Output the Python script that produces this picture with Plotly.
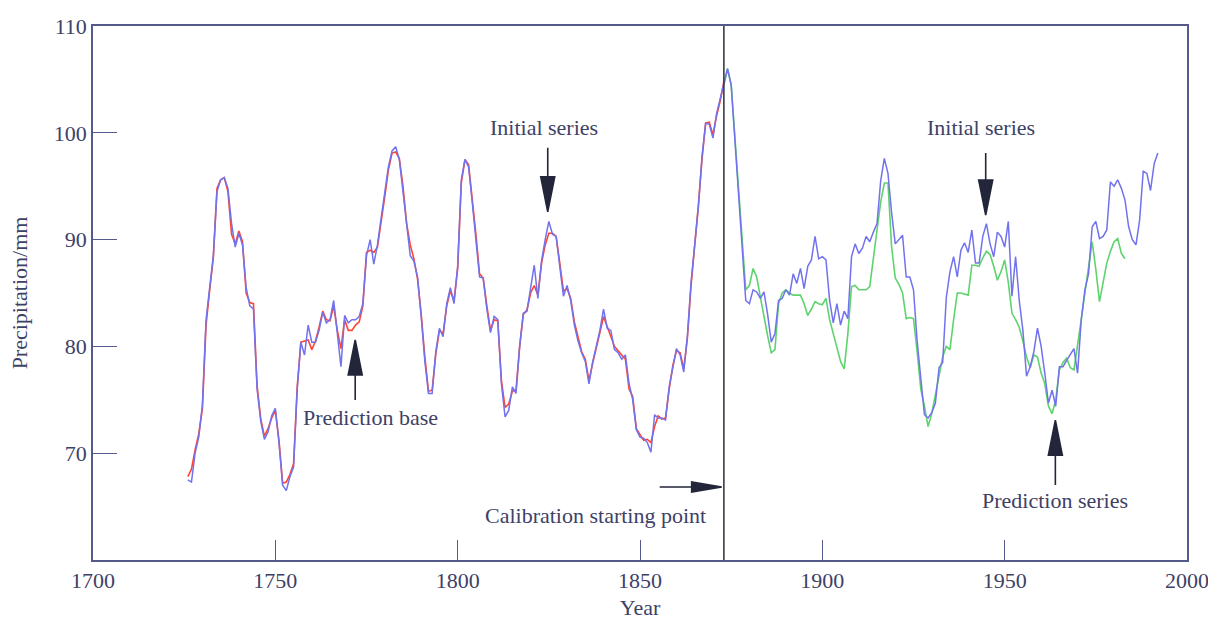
import plotly.graph_objects as go

# ---------------- data ----------------
start_year = 1726
initial_series = [
    67.5, 67.3, 70.0, 71.5, 74.5, 82.5, 85.5, 88.5, 94.5, 95.6,   # 1726-1735
    95.8, 94.8, 91.5, 89.3, 90.6, 89.5, 85.5, 83.8, 83.5, 76.0,   # 1736-1745
    73.0, 71.3, 72.0, 73.5, 74.2, 71.0, 67.0, 66.5, 67.8, 68.7,   # 1746-1755
    76.0, 80.4, 79.2, 82.0, 80.4, 80.4, 81.5, 83.2, 82.2, 82.5,   # 1756-1765
    84.3, 81.0, 78.1, 82.9, 82.2, 82.5, 82.5, 82.8, 84.0, 88.5,   # 1766-1775
    90.0, 87.7, 89.5, 92.0, 94.5, 96.8, 98.3, 98.7, 97.5, 94.5,   # 1776-1785
    91.0, 88.5, 88.0, 86.5, 82.8, 78.6, 75.6, 75.6, 79.5, 81.7,   # 1786-1795
    80.9, 84.0, 85.5, 84.0, 87.5, 95.6, 97.5, 96.8, 93.5, 90.0,   # 1796-1805
    86.5, 86.4, 83.5, 81.3, 82.8, 82.5, 76.5, 73.4, 74.0, 76.2,   # 1806-1815
    75.6, 80.0, 83.1, 83.3, 85.3, 87.6, 84.5, 88.0, 90.0, 91.7,   # 1816-1825
    90.5, 90.3, 87.5, 84.7, 85.7, 84.3, 82.0, 80.5, 79.4, 78.6,   # 1826-1835
    76.5, 78.5, 80.0, 81.5, 83.5, 81.7, 81.5, 79.7, 79.4, 78.8,   # 1836-1845
    79.2, 76.5, 75.0, 72.2, 71.5, 71.4, 71.0, 70.1, 73.6, 73.3,   # 1846-1855
    73.3, 73.1, 76.2, 78.0, 79.8, 79.2, 77.6, 81.0, 86.0, 89.5,   # 1856-1865
    93.0, 97.8, 100.9, 100.8, 99.5, 101.8, 103.2, 104.5, 106.0, 104.5,  # 1866-1875
    99.6, 94.3, 89.0, 84.3, 84.0, 85.3, 85.1, 84.5, 85.1, 83.0,   # 1876-1885
    80.4, 81.2, 84.3, 84.5, 85.3, 84.8, 86.8, 85.9, 87.3, 85.4,   # 1886-1895
    87.5, 88.1, 90.3, 88.2, 88.4, 88.1, 84.3, 82.2, 84.0, 82.0,   # 1896-1905
    83.3, 82.6, 88.4, 89.6, 88.7, 89.2, 90.3, 89.8, 90.7, 91.5,   # 1906-1915
    95.5, 97.6, 96.2, 92.5, 89.6, 90.0, 90.4, 86.5, 86.5, 85.3,   # 1916-1925
    80.5, 77.0, 73.6, 73.3, 73.8, 74.7, 78.0, 78.5, 84.6, 87.0,   # 1926-1935
    88.4, 86.5, 89.0, 89.7, 88.8, 90.9, 87.8, 87.8, 90.3, 91.5,   # 1936-1945
    89.6, 88.4, 90.7, 90.3, 89.3, 91.7, 84.7, 88.4, 84.3, 81.5,   # 1946-1955
    77.2, 78.1, 79.5, 81.7, 80.0, 77.5, 74.7, 75.9, 74.4, 78.1,   # 1956-1965
    78.1, 78.7, 79.2, 79.8, 77.5, 82.5, 85.3, 86.8, 91.2, 91.7,   # 1966-1975
    90.1, 90.3, 90.9, 95.4, 95.0, 95.6, 94.8, 93.7, 91.2, 90.0,   # 1976-1985
    89.5, 91.8, 96.4, 96.2, 94.6, 97.1, 98.1,                     # 1986-1992
]
initial_years = list(range(start_year, start_year + len(initial_series)))

prediction_base = [
    67.8, 68.5, 70.3, 71.8, 74.2, 82.0, 85.3, 88.3, 94.8, 95.6,   # 1726-1735
    95.8, 94.5, 90.5, 89.6, 90.8, 89.8, 85.0, 84.1, 84.0, 76.3,   # 1736-1745
    73.2, 71.6, 72.3, 73.3, 74.0, 71.2, 67.2, 67.3, 68.0, 69.0,   # 1746-1755
    76.2, 80.4, 80.5, 80.6, 79.7, 80.5, 81.8, 83.3, 82.5, 82.4,   # 1756-1765
    83.8, 81.5, 79.8, 82.5, 81.5, 81.5, 82.0, 82.3, 83.8, 88.8,   # 1766-1775
    89.0, 88.8, 89.3, 91.5, 94.0, 96.5, 98.1, 98.2, 97.6, 95.0,   # 1776-1785
    91.5, 89.5, 88.2, 86.3, 83.0, 79.0, 75.8, 75.9, 79.3, 81.5,   # 1786-1795
    81.2, 83.8, 85.2, 84.3, 87.3, 95.3, 97.5, 97.0, 94.0, 90.5,   # 1796-1805
    86.8, 86.4, 83.8, 81.5, 82.5, 82.4, 76.8, 74.3, 74.6, 75.8,   # 1806-1815
    75.9, 80.0, 83.0, 83.4, 85.0, 85.7, 84.8, 87.8, 89.5, 90.6,   # 1816-1825
    90.6, 90.3, 87.8, 85.2, 85.4, 84.5, 82.3, 81.0, 79.5, 78.8,   # 1826-1835
    76.8, 78.4, 80.0, 81.3, 82.8, 81.9, 81.0, 80.0, 79.6, 79.2,   # 1836-1845
    78.8, 76.0, 75.3, 72.3, 71.8, 71.2, 71.3, 71.0, 72.5, 73.5,   # 1846-1855
    73.2, 73.3, 76.0, 78.2, 79.6, 79.4, 77.9, 80.8, 85.7, 89.2,   # 1856-1865
    93.2, 97.5, 100.9, 101.0, 99.8, 101.6, 103.0, 104.8,           # 1866-1873
]
base_years = list(range(start_year, start_year + len(prediction_base)))

pred_start = 1873
prediction_series = [
    104.5, 106.0, 104.5, 99.6, 94.3, 89.3, 85.3, 85.7, 87.3, 86.5,   # 1873-1882
    84.5, 82.8, 81.0, 79.4, 79.7, 84.0, 85.0, 85.3, 85.0, 84.8,      # 1883-1892
    84.8, 84.8, 84.0, 82.9, 83.5, 84.2, 84.0, 83.9, 84.5, 82.5,      # 1893-1902
    81.2, 79.8, 78.6, 77.9, 81.2, 85.6, 85.7, 85.3, 85.3, 85.3,      # 1903-1912
    85.6, 88.5, 90.9, 93.5, 95.3, 95.3, 89.3, 86.4, 85.8, 85.0,      # 1913-1922
    82.6, 82.7, 82.6, 79.5, 76.0, 74.4, 72.5, 73.7, 75.5, 77.5,      # 1923-1932
    79.0, 80.0, 79.7, 82.5, 85.0, 85.0, 84.9, 84.8, 87.6, 87.6,      # 1933-1942
    87.5, 88.3, 88.9, 88.6, 87.5, 86.2, 87.0, 88.1, 86.0, 83.1,      # 1943-1952
    82.5, 81.8, 80.5, 79.0, 78.0, 79.2, 79.0, 77.5, 76.5, 74.4,      # 1953-1962
    73.7, 75.0, 77.8, 78.5, 78.9, 78.0, 77.8, 80.0, 82.5, 85.0,      # 1963-1972
    87.2, 89.8, 87.2, 84.2, 86.0, 87.8, 88.9, 89.8, 90.1, 88.7,      # 1973-1982
    88.2,                                                            # 1983
]
pred_years = list(range(pred_start, pred_start + len(prediction_series)))

calibration_year = 1873
x_ticks = [1700, 1750, 1800, 1850, 1900, 1950, 2000]
y_ticks = [70, 80, 90, 100, 110]

# ---------------- style ----------------
FONT = "Liberation Serif, Times New Roman, serif"
TXT = "#3d4166"
AX = "#555a8a"
ARROW = "#23263a"
FS = 22

fig = go.Figure()
fig.add_trace(go.Scatter(x=base_years, y=prediction_base, mode="lines",
                         line=dict(color="#ff4433", width=1.6), name="Prediction base"))
fig.add_trace(go.Scatter(x=pred_years, y=prediction_series, mode="lines",
                         line=dict(color="#5fd36e", width=1.6), name="Prediction series"))
fig.add_trace(go.Scatter(x=initial_years, y=initial_series, mode="lines",
                         line=dict(color="#7272ee", width=1.5), name="Initial series"))

fig.add_shape(type="line", x0=calibration_year, x1=calibration_year, y0=60, y1=110,
              xref="x", yref="y", line=dict(color="#3a3a4a", width=1.6))

def arrow(x, y, direction, head=35, total=62, half=7):
    """Arrow whose tip sits at data point (x, y); geometry in pixels."""
    if direction == "down":      # tail above, tip at bottom
        p = f"M0,0 L{-half},{head} L{half},{head} Z M0,{head} L0,{total}"
    elif direction == "up":      # tail below
        p = f"M0,0 L{-half},{-head} L{half},{-head} Z M0,{-head} L0,{-total}"
    else:                        # right: tail on the left
        p = f"M0,0 L{-head},{half} L{-head},{-half} Z M{-head},0 L{-total},0"
    fig.add_shape(type="path", path=p, xref="x", yref="y",
                  xsizemode="pixel", ysizemode="pixel", xanchor=x, yanchor=y,
                  fillcolor=ARROW, line=dict(color=ARROW, width=1.6))

def label(text, x, y):
    fig.add_annotation(x=x, y=y, xref="x", yref="y", text=text, showarrow=False,
                       font=dict(family=FONT, size=FS, color=TXT))

arrow(1824.7, 92.6, "down", head=35, total=64, half=7)
label("Initial series", 1823.8, 100.5)
arrow(1771.9, 80.6, "up", head=35, total=60, half=7)
label("Prediction base", 1776.1, 73.3)
arrow(1872.4, 66.84, "right", head=30, total=62, half=5)
label("Calibration starting point", 1837.8, 64.2)
arrow(1944.8, 92.3, "down", head=35, total=62, half=7)
label("Initial series", 1943.4, 100.5)
arrow(1963.9, 73.1, "up", head=35, total=65, half=7)
label("Prediction series", 1963.7, 65.6)

fig.update_layout(
    width=1208, height=620,
    margin=dict(l=93, r=21, t=26, b=60),
    paper_bgcolor="white", plot_bgcolor="white",
    showlegend=False,
    font=dict(family=FONT, size=FS, color=TXT),
)
fig.update_xaxes(range=[1700, 2000], tickvals=x_ticks, ticks="inside", ticklen=20,
                 tickcolor=AX, tickwidth=1.2, showline=True, linecolor=AX, linewidth=1.5,
                 mirror=True, showgrid=False, zeroline=False, automargin=False,
                 ticklabeloverflow="allow",
                 title=dict(text="Year", standoff=8, font=dict(size=FS, color=TXT)),
                 tickfont=dict(size=FS, color=TXT))
fig.update_yaxes(range=[60, 110], tickvals=y_ticks, ticks="inside", ticklen=24,
                 tickcolor=AX, tickwidth=1.2, showline=True, linecolor=AX, linewidth=1.5,
                 mirror=True, showgrid=False, zeroline=False, automargin=False,
                 ticklabeloverflow="allow",
                 title=dict(text="Precipitation/mm", standoff=20, font=dict(size=FS, color=TXT)),
                 tickfont=dict(size=FS, color=TXT))

fig.write_html("out.html")
